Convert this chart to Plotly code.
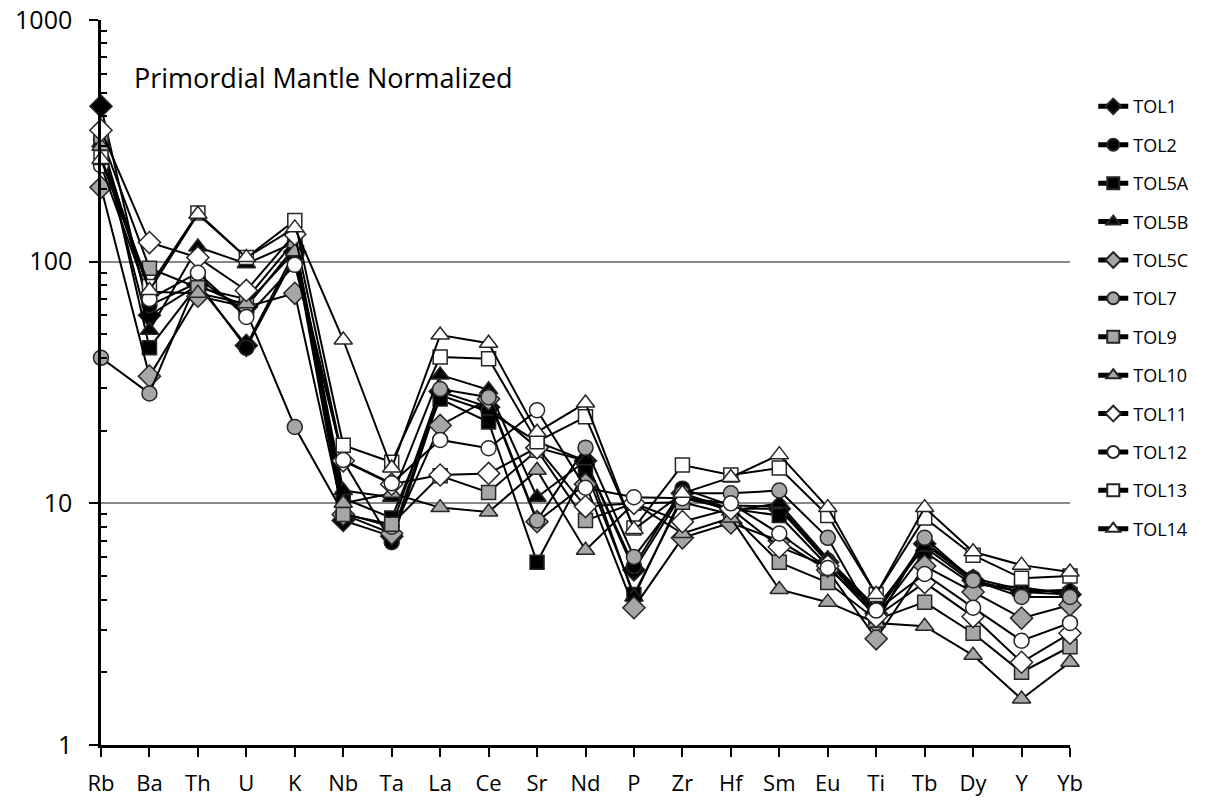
import plotly.graph_objects as go

elements = ["Rb", "Ba", "Th", "U", "K", "Nb", "Ta", "La", "Ce", "Sr", "Nd",
            "P", "Zr", "Hf", "Sm", "Eu", "Ti", "Tb", "Dy", "Y", "Yb"]

TOL1 = [440, 60, 80, 45, 110, 8.5, 7.3, 29, 25, 17, 15, 5.3, 11, 9.5, 9.5, 5.7, 3.5, 6.8, 4.8, 4.3, 4.2]
TOL2 = [320, 66, 82, 44, 105, 15, 6.9, 28, 24, 18, 15, 5.5, 11.5, 9.8, 9.7, 5.8, 3.6, 6.9, 4.9, 4.4, 4.3]
TOL5A = [340, 44, 80, 65, 115, 10.5, 8.7, 27, 21.7, 5.7, 13.7, 4.2, 10.5, 9.5, 8.9, 5.5, 3.4, 6.3, 4.6, 4.5, 4.2]
TOL5B = [310, 52, 115, 98, 120, 11.3, 10.6, 34, 29.5, 10.6, 15, 4.1, 10.8, 9.3, 10, 5.9, 3.7, 6.6, 4.7, 4.3, 4.4]
TOL5C = [203, 33.6, 72, 65, 74, 9, 7.5, 21, 27, 8.4, 12, 3.7, 7.2, 8.3, 7, 5.3, 2.75, 5.5, 4.3, 3.35, 3.8]
TOL7 = [40, 28.5, 85, 62, 20.7, 9.1, 8, 29.7, 27.5, 8.5, 17, 6.0, 11, 11, 11.3, 7.2, 3.2, 7.2, 4.8, 4.1, 4.1]
TOL9 = [330, 94, 78, 70, 122, 9, 8.2, 13, 11.1, 16.6, 8.5, 10, 10.1, 9, 5.7, 4.7, 3.3, 3.9, 2.9, 2.0, 2.55]
TOL10 = [300, 75, 74, 67, 110, 10, 11, 9.6, 9.2, 13.7, 6.4, 10, 7.5, 8.7, 4.4, 3.9, 3.2, 3.1, 2.35, 1.55, 2.2]
TOL11 = [350, 120, 104, 76, 130, 15, 12, 13.1, 13.3, 17, 9.7, 10, 8.4, 9.5, 6.6, 5.5, 3.4, 4.7, 3.4, 2.2, 2.9]
TOL12 = [250, 70, 90, 59, 97, 15.1, 12.1, 18.3, 16.9, 24.3, 11.6, 10.6, 10.5, 10, 7.5, 5.4, 3.6, 5.1, 3.7, 2.7, 3.2]
TOL13 = [270, 79, 159, 104, 148, 17.4, 14.8, 40.3, 39.7, 18, 22.8, 7.9, 14.4, 13.1, 14, 8.9, 4.2, 8.7, 6.1, 4.9, 5.0]
TOL14 = [265, 76, 157, 104, 138, 47.4, 14, 49.7, 46, 19.7, 26, 7.8, 11, 12.8, 15.9, 9.6, 4.2, 9.6, 6.3, 5.55, 5.2]

BLACK, GREY, WHITE = "#000000", "#a6a6a6", "#ffffff"
series = [
    ("TOL1", TOL1, "diamond", BLACK),
    ("TOL2", TOL2, "circle", BLACK),
    ("TOL5A", TOL5A, "square", BLACK),
    ("TOL5B", TOL5B, "triangle-up", BLACK),
    ("TOL5C", TOL5C, "diamond", GREY),
    ("TOL7", TOL7, "circle", GREY),
    ("TOL9", TOL9, "square", GREY),
    ("TOL10", TOL10, "triangle-up", GREY),
    ("TOL11", TOL11, "diamond", WHITE),
    ("TOL12", TOL12, "circle", WHITE),
    ("TOL13", TOL13, "square", WHITE),
    ("TOL14", TOL14, "triangle-up", WHITE),
]
sizes = {"diamond": 17, "circle": 15, "square": 14, "triangle-up": 16}

fig = go.Figure()
for name, vals, sym, col in series:
    fig.add_trace(go.Scatter(
        x=elements, y=vals, name=name, mode="lines+markers",
        line=dict(color="black", width=2),
        marker=dict(symbol=sym, size=sizes[sym], color=col,
                    line=dict(color="#262626", width=1.5)),
        cliponaxis=False, legendgroup=name,
    ))

fig.add_annotation(text="Primordial Mantle Normalized", xref="paper", yref="paper",
                   x=0.032, y=0.921, xanchor="left", yanchor="middle", showarrow=False,
                   font=dict(size=27, color="black", family="Open Sans, Arial"))

minor_vals = [m * 10 ** d for d in range(3) for m in range(2, 10)]

fig.update_layout(
    width=1207, height=801,
    margin=dict(l=101, r=137, t=20, b=56, autoexpand=False),
    paper_bgcolor="white", plot_bgcolor="white",
    font=dict(family="Open Sans, Arial", color="black"),
    showlegend=True,
    legend=dict(x=1.024, y=0.906, xanchor="left", yanchor="top",
                font=dict(size=18, color="black"), traceorder="grouped",
                tracegroupgap=12, itemsizing="constant",
                bgcolor="rgba(0,0,0,0)"),
    xaxis=dict(type="category", range=[0, 20], showgrid=False, automargin=False,
               showline=True, linecolor="black", linewidth=2.5,
               ticks="outside", ticklen=9, tickwidth=2, tickcolor="black",
               tickfont=dict(size=22), ticklabelstandoff=8, zeroline=False),
    yaxis=dict(type="log", range=[0, 3], tickvals=[1, 10, 100, 1000],
               ticktext=["1", "10", "100", "1000"], automargin=False,
               showgrid=True, gridcolor="#888888", gridwidth=1.5,
               showline=True, linecolor="black", linewidth=2.5,
               ticks="outside", ticklen=9, tickwidth=2, tickcolor="black",
               tickfont=dict(size=25), ticklabelstandoff=12, zeroline=False,
               minor=dict(tickvals=minor_vals, ticks="inside", ticklen=6,
                          tickwidth=1.5, tickcolor="black", showgrid=False)),
)

fig.write_html("out.html")
